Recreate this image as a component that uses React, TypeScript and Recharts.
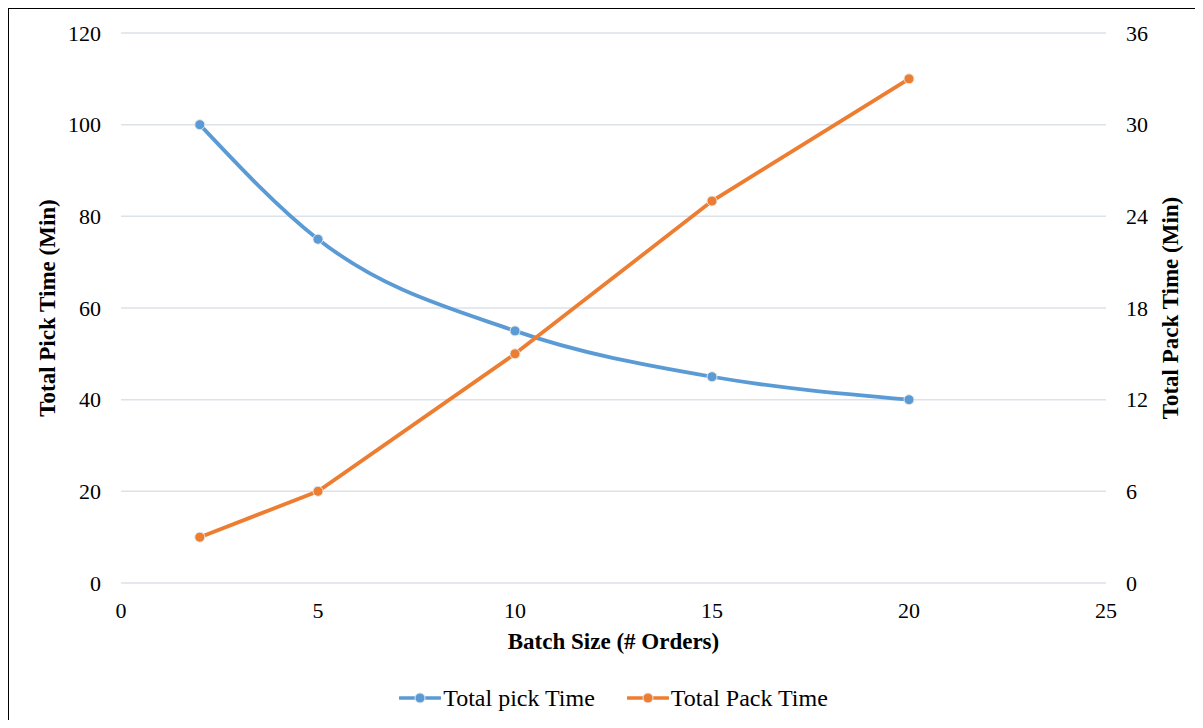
import React from 'react';
import { LineChart, Line, XAxis, YAxis, CartesianGrid, Legend, Label } from 'recharts';

const batchSizes = [2, 5, 10, 15, 20];
const pickTimes = [100, 75, 55, 45, 40];
const packTimes = [3, 6, 15, 25, 33];
const xTicks = [0, 5, 10, 15, 20, 25];
const leftTicks = [0, 20, 40, 60, 80, 100, 120];
const rightTicks = [0, 6, 12, 18, 24, 30, 36];

const data = batchSizes.map((b, i) => ({ batch: b, pick: pickTimes[i], pack: packTimes[i] }));

const BLUE = '#5B9BD5';
const ORANGE = '#ED7D31';
const FONT = '"Liberation Serif", "Times New Roman", serif';

const LegendContent = () => {
  const items = [
    { name: 'Total pick Time', color: BLUE },
    { name: 'Total Pack Time', color: ORANGE },
  ];
  return (
    <div style={{ display: 'flex', justifyContent: 'center', gap: 32, fontFamily: FONT, fontSize: 24, color: '#000', lineHeight: '26px' }}>
      {items.map((it) => (
        <div key={it.name} style={{ display: 'flex', alignItems: 'center' }}>
          <svg width={42} height={14} style={{ marginRight: 2 }}>
            <line x1={1} y1={7} x2={41} y2={7} stroke={it.color} strokeWidth={3.5} strokeLinecap="round" />
            <circle cx={21} cy={7} r={5} fill={it.color} stroke="#e6e6e6" strokeWidth={1} />
          </svg>
          <span>{it.name}</span>
        </div>
      ))}
    </div>
  );
};

const tickStyle = { fill: '#000', fontFamily: FONT, fontSize: 22 };
const titleStyle = { fill: '#000', fontFamily: FONT, fontSize: 23, fontWeight: 'bold' as const };

export default function App() {
  return (
    <div style={{ margin: -8, position: 'relative', width: 1203, height: 728, overflow: 'hidden', background: '#fff' }}>
      <div style={{ position: 'absolute', left: 6, top: 6, width: 1200, height: 740, border: '3px solid #000', boxSizing: 'border-box' }} />
      <div style={{ position: 'absolute', left: 0, top: 0 }}>
        <LineChart width={1203} height={728} data={data} margin={{ top: 33, right: 17, left: 41, bottom: 74 }}>
          <CartesianGrid vertical={false} stroke="#dde1e8" strokeWidth={1.5} yAxisId="left" />
          <XAxis
            dataKey="batch"
            type="number"
            domain={[0, 25]}
            ticks={xTicks}
            axisLine={false}
            tickLine={false}
            tickSize={0}
            tickMargin={19}
            height={45}
            tick={tickStyle}
          >
            <Label value="Batch Size (# Orders)" position="insideBottom" offset={-21} style={titleStyle} />
          </XAxis>
          <YAxis
            yAxisId="left"
            domain={[0, 120]}
            ticks={leftTicks}
            axisLine={false}
            tickLine={false}
            tickSize={0}
            tickMargin={20}
            width={80}
            tick={tickStyle}
          >
            <Label value="Total Pick Time (Min)" angle={-90} position="insideLeft" offset={6} style={{ ...titleStyle, textAnchor: 'middle' }} />
          </YAxis>
          <YAxis
            yAxisId="right"
            orientation="right"
            domain={[0, 36]}
            ticks={rightTicks}
            axisLine={false}
            tickLine={false}
            tickSize={0}
            tickMargin={20}
            width={80}
            tick={tickStyle}
          >
            <Label value="Total Pack Time (Min)" angle={-90} position="insideRight" offset={16} style={{ ...titleStyle, textAnchor: 'middle' }} />
          </YAxis>
          <Legend verticalAlign="bottom" content={<LegendContent />} wrapperStyle={{ bottom: 17 }} />
          <Line
            yAxisId="left"
            type="monotone"
            dataKey="pick"
            name="Total pick Time"
            stroke={BLUE}
            strokeWidth={3.8}
            dot={{ r: 5, fill: BLUE, stroke: '#e6e6e6', strokeWidth: 1 }}
            isAnimationActive={false}
          />
          <Line
            yAxisId="right"
            type="linear"
            dataKey="pack"
            name="Total Pack Time"
            stroke={ORANGE}
            strokeWidth={3.8}
            dot={{ r: 5, fill: ORANGE, stroke: '#e6e6e6', strokeWidth: 1 }}
            isAnimationActive={false}
          />
        </LineChart>
      </div>
    </div>
  );
}
